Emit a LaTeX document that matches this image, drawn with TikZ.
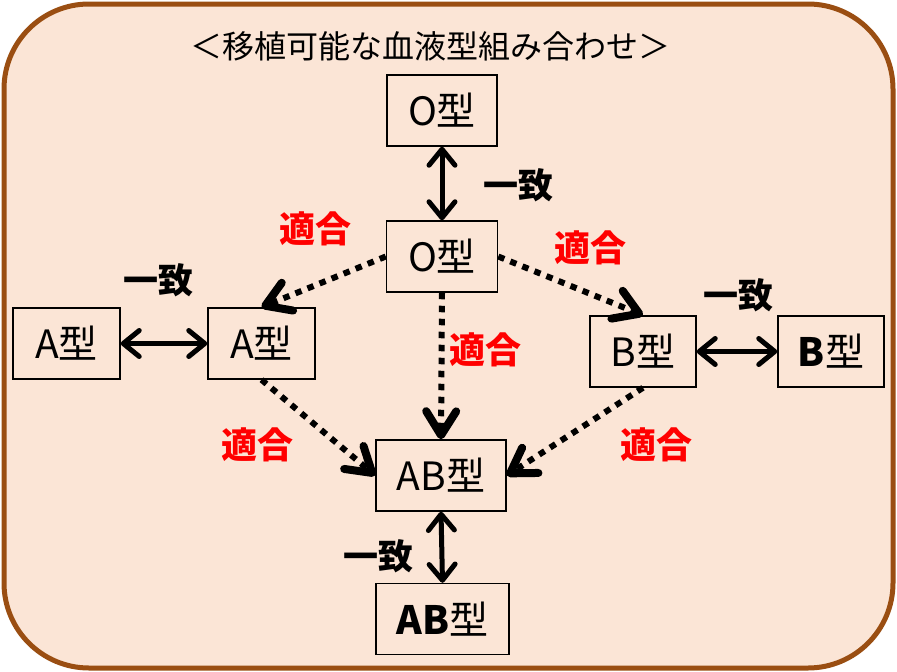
\documentclass[tikz,border=0pt]{standalone}
\usepackage{fontspec}
\setmainfont{Noto Sans CJK JP}
\usetikzlibrary{arrows.meta}
\definecolor{bgfill}{HTML}{FBE5D6}
\definecolor{bgline}{HTML}{9A4E12}
\definecolor{lblred}{HTML}{FF0000}
\tikzset{
  typebox/.style={draw=black, line width=1.5pt, minimum height=71pt, inner sep=0pt, font=\fontsize{39}{39}\selectfont},
  match/.style={font=\fontsize{35}{35}\selectfont\bfseries, text=black},
  compat/.style={font=\fontsize{36}{36}\selectfont\bfseries, text=lblred},
  same/.style={line width=5pt, {Straight Barb[length=16pt,width=26pt,round]}-{Straight Barb[length=16pt,width=26pt,round]}},
  donor/.style={line width=6pt, dash pattern=on 6.5pt off 6.5pt, -{Straight Barb[length=24pt,width=30pt,line width=8pt,round]}}
}
\begin{document}
\begin{tikzpicture}[x=1pt,y=-1pt]
\useasboundingbox (0,0) rectangle (897,672);
\draw[fill=bgfill, draw=bgline, line width=5pt, rounded corners=85pt] (4,4) rectangle (893,668);
\node[font=\fontsize{32}{32}\selectfont] (title) at (430,46) {＜移植可能な血液型組み合わせ＞};
\node[typebox, minimum width=110pt] (ot) at (442,110.5) {O型};
\node[typebox, minimum width=111pt] (om) at (442,256.5) {O型};
\node[typebox, minimum width=107pt] (al) at (66.5,343.5) {A型};
\node[typebox, minimum width=107pt] (am) at (261.5,343.5) {A型};
\node[typebox, minimum width=106pt] (bm) at (643,351.5) {B型};
\node[typebox, minimum width=106pt] (br) at (831,351.5) {{\bfseries B}型};
\node[typebox, minimum width=130pt] (abm) at (441,475.5) {AB型};
\node[typebox, minimum width=133pt] (abb) at (442.5,619) {{\bfseries AB}型};
\draw[same] (ot.south) -- (om.north);
\draw[same] (al.east) -- (am.west);
\draw[same] (bm.east) -- (br.west);
\draw[same] (abm.south) -- (abb.north);
\draw[donor] (om.west) -- (am.north);
\draw[donor] (om.east) -- (bm.north);
\draw[donor] (om.south) -- (abm.north);
\draw[donor] (am.south) -- (abm.west);
\draw[donor] (bm.south) -- (abm.east);
\node[match] (m1) at (518,185) {一致};
\node[match] (m2) at (158,280) {一致};
\node[match] (m3) at (738,295) {一致};
\node[match] (m4) at (378,556) {一致};
\node[compat] (c1) at (315,229) {適合};
\node[compat] (c2) at (590,248) {適合};
\node[compat] (c3) at (485,350) {適合};
\node[compat] (c4) at (257,445) {適合};
\node[compat] (c5) at (656,445) {適合};
\end{tikzpicture}
\end{document}
